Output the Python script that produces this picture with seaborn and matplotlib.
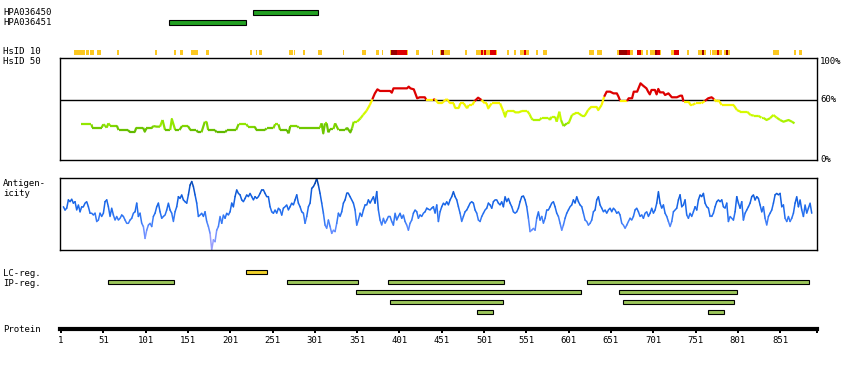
import numpy as np
import pandas as pd
import matplotlib
matplotlib.use("Agg")
import matplotlib.pyplot as plt
import seaborn as sns
from matplotlib.colors import LinearSegmentedColormap, to_hex

# ---------------- data ----------------
antibody_names = ["HPA036450", "HPA036451"]
antibody_start = [228, 129]
antibody_end = [305, 220]

# HsID 10 blocks: level 0 = yellow, 1 = red, 2 = dark red
hsid10_start = [16, 31, 35, 44, 67, 112, 135, 142, 155, 172, 224, 231, 235, 270, 276, 287, 305, 334, 357, 373, 380,
                390, 391, 398, 410, 421, 439, 449, 450, 454, 479,
                492, 497, 500, 501, 503, 508, 515, 528, 537, 544, 548, 551, 563, 571, 625, 634,
                658, 661, 670, 674, 682, 687, 693, 697, 703, 706, 709, 722, 725, 731, 741,
                754, 759, 761, 768, 770, 776, 779, 785, 787, 789, 843, 868, 873]
hsid10_end = [29, 34, 40, 48, 69, 115, 137, 145, 163, 176, 227, 233, 238, 275, 278, 289, 310, 336, 362, 377, 382,
              391, 398, 410, 411, 424, 441, 450, 454, 461, 481,
              497, 500, 501, 503, 508, 515, 516, 530, 539, 548, 551, 554, 565, 576, 631, 641,
              661, 670, 674, 677, 687, 689, 695, 703, 706, 709, 710, 725, 731, 732, 743,
              759, 761, 763, 769, 776, 779, 782, 787, 789, 792, 850, 870, 877]
hsid10_level = [0, 0, 0, 0, 0, 0, 0, 0, 0, 0, 0, 0, 0, 0, 0, 0, 0, 0, 0, 0, 0,
                0, 2, 1, 0, 0, 0, 0, 2, 0, 0,
                0, 1, 0, 1, 0, 1, 0, 0, 0, 0, 1, 0, 0, 0, 0, 0,
                0, 2, 1, 0, 1, 0, 0, 0, 2, 1, 0, 0, 1, 0, 0,
                0, 2, 0, 0, 0, 1, 0, 0, 2, 0, 0, 0, 0]

# HsID 50 identity profile (residue, % identity)
hsid50_res = [25, 37, 38, 49, 51, 53, 55, 57, 59, 67, 69, 80, 83, 88, 90, 98, 100, 102, 108, 110,
              114, 118, 121, 124, 130, 132, 136, 141, 144, 151, 154, 161, 163, 167, 171, 173, 175, 183, 185, 195,
              197, 208, 211, 220, 222, 230, 232, 242, 244, 252, 254, 258, 260, 268, 270, 272, 280, 282, 307, 309,
              311, 313, 315, 317, 319, 323, 325, 329, 337, 339, 343, 345, 347, 351, 355, 358, 362, 366, 369, 372,
              375, 378, 390, 392, 394, 410, 412, 414, 418, 422, 425, 431,
              433, 441, 443, 447, 451, 453, 457, 461, 465, 467, 471, 473, 477, 481, 483, 487, 490, 494, 498, 502,
              504, 506, 510, 520, 524, 526, 528, 536, 538, 542, 546, 552, 555, 557, 559, 567, 569, 577, 579, 581,
              585, 587, 590, 592, 595, 599, 601, 605, 609, 613, 617, 620, 624, 628, 634, 636, 640, 643, 646, 650,
              654, 658, 660, 662, 670, 672, 676, 678, 682, 686, 689, 693, 695, 697, 699, 703, 705, 707, 709, 713,
              715, 719, 723, 729, 733, 735, 737, 743, 745, 747, 751, 758, 762, 766, 770, 773, 776, 778, 782, 784,
              788, 796, 800, 804, 812, 816, 820, 825, 829, 831, 835, 839, 843, 847, 851, 855, 861, 865, 868]
hsid50_pct = [35.8, 35.8, 32.5, 32.5, 35.8, 34.5, 32.5, 36.8, 34.5, 34.5, 30.1, 30.1, 27.8, 27.8, 32.5, 32.5, 28.5, 31.8, 31.8, 34.1,
              33.5, 33.5, 40.1, 30.1, 30.1, 41.1, 30.1, 30.1, 34.1, 34.1, 30.1, 30.1, 27.8, 27.8, 38.4, 38.4, 30.1, 30.1, 27.8, 27.8,
              30.1, 30.1, 36.1, 36.1, 33.5, 33.5, 30.1, 30.1, 31.8, 31.8, 35.8, 35.8, 30.1, 30.1, 26.8, 34.1, 34.1, 32.5, 32.5, 36.8,
              26.8, 36.8, 36.8, 27.8, 31.1, 31.1, 36.8, 30.1, 30.1, 32.5, 27.8, 31.8, 38.4, 38.4, 41.8, 45.1, 49.1, 55.0, 60.7, 66.6,
              70.6, 69.0, 69.0, 67.3, 71.6, 71.6, 73.3, 71.6, 70.6, 61.7, 62.7, 62.7,
              60.0, 60.0, 61.0, 56.7, 56.7, 58.3, 61.0, 56.7, 56.7, 51.7, 51.7, 56.7, 56.7, 51.7, 55.0, 55.0, 59.0, 62.3, 60.0, 56.7,
              56.7, 51.7, 56.7, 56.7, 48.4, 43.4, 49.1, 49.1, 47.7, 47.7, 49.1, 49.1, 45.7, 41.8, 40.1, 40.1, 42.4, 42.4, 40.1, 43.4,
              43.4, 38.4, 48.4, 40.1, 34.1, 36.8, 36.8, 45.1, 46.7, 46.7, 44.1, 44.1, 50.0, 53.4, 53.4, 50.0, 55.0, 63.3, 68.3, 68.3,
              66.6, 66.6, 63.3, 59.0, 59.0, 61.7, 61.7, 68.3, 68.3, 76.6, 74.3, 71.6, 68.3, 65.6, 70.0, 70.0, 65.6, 71.0, 67.6, 67.6,
              65.0, 66.6, 62.7, 62.7, 64.3, 64.3, 58.3, 58.3, 55.0, 55.0, 56.7, 56.7, 59.0, 61.7, 62.7, 60.7, 58.3, 60.0, 55.0, 55.0,
              55.0, 55.0, 50.0, 48.4, 48.4, 45.1, 44.4, 44.4, 42.4, 42.4, 40.1, 41.8, 45.1, 42.4, 40.1, 38.4, 40.1, 38.4, 36.8]

# Antigenicity profile (score, -100..100), sampled along residues antigen_first..antigen_last
antigen_first = 3.8
antigen_last = 888.4
antigen_score = [
    21, 12, 17, 40, 35, 42, 31, 35, 12, 26, 7, 21, 21, 31, 35, 21, 3, 3, -2, 3,
    -20, -16, 3, -6, 3, 35, 40, 21, -6, 17, -2, -16, -6, -16, -11, -2, -6, -16, -25, -25,
    -16, -11, 3, 7, 31, -6, 3, -25, -34, -67, -44, -30, -25, -34, -6, 3, 21, 31, 7, -11,
    -6, -2, 12, 31, 12, 3, -20, 7, 21, 49, 44, 54, 40, 35, 31, 54, 81, 91, 77, 54,
    31, -6, -2, 3, -6, 7, -20, -34, -53, -99, -71, -76, -44, -34, -6, -25, -2, -11, 3, -2,
    7, 31, 21, 49, 68, 58, 54, 40, 35, 44, 54, 49, 58, 49, 40, 49, 44, 49, 58, 68,
    68, 58, 49, 49, 21, 7, 3, 12, 3, 17, 12, -2, 17, 21, 26, 12, 21, 31, 26, 40,
    54, 31, 21, 7, 3, -25, -6, 21, 31, 72, 77, 86, 100, 81, 58, 31, 3, -30, -39, -16,
    -34, -53, -44, -48, -25, 3, -6, 7, 31, 40, 58, 58, 49, 40, 31, 12, -30, -16, 3, -6,
    12, 26, 26, 40, 31, 40, 49, 31, 63, 12, -16, -30, -11, -25, -16, -6, -6, -20, -30, 3,
    -16, -6, 3, -11, -2, -20, -30, -44, -25, -16, 3, 12, 7, -11, -2, -6, 3, 7,
    17, 14, 12, 17, 21, 3, 26, -20, 7, 21, 31, 26, 35, 26, 40, 49, 63, 49, 40, 21,
    3, -20, -6, 7, 12, 21, 31, 35, 31, 12, 3, -16, -20, -6, 3, 12, 17, 31, 26, 17,
    35, 40, 40, 31, 26, 35, 21, 49, 35, 44, 31, 21, 7, 3, 7, 17, 35, 49, 51, 40,
    21, -11, -48, -44, -39, -44, -11, 7, -16, -6, -25, -11, 12, 12, 21, 31, 35, 21, 3, -6,
    -25, -44, -30, -11, 3, 12, 21, 26, 40, 31, 49, 35, 26, 21, 3, -16, -20, -30, -25, -16,
    7, 12, 40, 49, 26, 17, 7, 12, 3, 12, 17, 7, 17, 12, 3, 7, -2, -25, -30, -39,
    -30, -20, -11, -16, -6, 12, 17, 7, -6, -2, -11, 3, 7, -6, 3, 17, 3, 12, 31, 63,
    31, 17, 26, 3, -6, -20, -34, -20, 7, 12, 17, 40, 54, 21, 26, 40, -2, -11, 3, -6,
    7, 21, 12, 40, 54, 49, 58, 31, 21, 17, -6, -6, 3, 21, 35, 40, 35, 40, 21, 17,
    31, -20, -6, -11, -16, 7, 49, 31, 17, 35, -16, 3, 12, 21, 31, 49, 54, 40, 49, 44,
    26, 7, 21, -11, -30, -6, 3, 12, 31, 54, 58, 54, 58, 21, 26, -11, -20, -6, -20, -11,
    3, 31, 49, 21, 40, 12, -6, 26, 3, 17, 31, 3]

lc_start = [220]
lc_end = [245]

ip_row = [1, 1, 1, 1, 2, 2, 3, 3, 4, 4]
ip_start = [56, 268, 387, 623, 350, 661, 390, 665, 493, 766]
ip_end = [134, 352, 525, 885, 616, 800, 523, 797, 512, 785]

tick_values = [1, 51, 101, 151, 201, 251, 301, 351, 401, 451, 501, 551, 601, 651, 701, 751, 801, 851]
protein_end = 894.6

# ---------------- style ----------------
sns.set_theme(style="white")
plt.rcParams["font.family"] = ["DejaVu Sans Mono"]
FS = 6.5

W, H = 850, 370
XMIN, XMAX = -0.2, protein_end
fig = plt.figure(figsize=(W / 100, H / 100), dpi=100)
fig.patch.set_facecolor("white")


def px_axes(x0, y0, x1, y1):
    ax = fig.add_axes([x0 / W, 1 - y1 / H, (x1 - x0) / W, (y1 - y0) / H])
    ax.set_facecolor("none")
    ax.set_xlim(XMIN, XMAX)
    return ax


def label(x, y, s, ha="left"):
    fig.text(x / W, 1 - y / H, s, ha=ha, va="center", fontsize=FS, color="black")


def runs_frame(x, y, seg_colors):
    rows, pal = [], {}
    start, run = 0, 0
    n = len(seg_colors)
    for i in range(1, n + 1):
        if i == n or seg_colors[i] != seg_colors[start]:
            key = f"r{run}"
            for j in range(start, i + 1):
                rows.append((x[j], y[j], key))
            pal[key] = seg_colors[start]
            run += 1
            start = i
    return pd.DataFrame(rows, columns=["x", "y", "run"]), pal


# ---- antibody tracks ----
ax_ab = px_axes(60, 7.3, 817, 27.3)
ax_ab.set_ylim(1.5, -0.5)
for i, (s, e) in enumerate(zip(antibody_start, antibody_end)):
    ax_ab.barh(i, e - s, left=s, height=0.45, color="#22a022", edgecolor="black", linewidth=0.8)
ax_ab.axis("off")
for i, name in enumerate(antibody_names):
    label(3, 12.5 + 10 * i, name)

# ---- HsID 10 ----
ax_h10 = px_axes(60, 50, 817, 54.5)
ax_h10.set_ylim(0, 1)
lvl_colors = {0: "#fcc820", 1: "#dd0000", 2: "#990000"}
for lvl in [0, 1, 2]:
    for s, e, l in zip(hsid10_start, hsid10_end, hsid10_level):
        if l == lvl:
            ax_h10.axvspan(s, e, color=lvl_colors[l], lw=0)
ax_h10.axis("off")
label(3, 52, "HsID 10")
label(3, 62, "HsID 50")

# ---- HsID 50 panel ----
ax_h50 = px_axes(60, 58.3, 817, 160.3)
ax_h50.set_ylim(0, 101.5)
green_cmap = LinearSegmentedColormap.from_list(
    "idg", [(0.0, "#5cb400"), (0.15, "#70c800"), (0.30, "#9cee00"), (0.5, "#c4fa00"),
            (0.72, "#e2fa00"), (0.9, "#faf500"), (1.0, "#fff200")])
seg_cols = []
for a, b in zip(hsid50_pct[:-1], hsid50_pct[1:]):
    m = (a + b) / 2
    if m > 60.3:
        seg_cols.append("#dd0000")
    else:
        q = round(m)
        seg_cols.append(to_hex(green_cmap(np.clip((q - 27) / 33, 0, 1))))
df50, pal50 = runs_frame(hsid50_res, hsid50_pct, seg_cols)
sns.lineplot(data=df50, x="x", y="y", hue="run", palette=pal50, estimator=None, sort=False,
             legend=False, lw=1.6, solid_capstyle="butt", ax=ax_h50)
ax_h50.axhline(60, color="black", lw=1.0, zorder=0)
ax_h50.set_xticks([])
ax_h50.set_yticks([])
ax_h50.set_xlabel("")
ax_h50.set_ylabel("")
for sp in ax_h50.spines.values():
    sp.set_color("black")
    sp.set_linewidth(1.0)
    sp.set_visible(True)
label(820, 62, "100%")
label(820, 100, "60%")
label(820, 160, "0%")

# ---- Antigenicity ----
ax_ag = px_axes(60, 178.3, 817, 250.3)
ax_ag.set_ylim(-100, 100)
ag_res = np.linspace(antigen_first, antigen_last, len(antigen_score))
blue_cmap = LinearSegmentedColormap.from_list(
    "ag", [(0.0, "#b0a2f4"), (0.15, "#8a9aff"), (0.3, "#5a8aff"), (0.42, "#3a7cf6"),
           (0.52, "#246ff0"), (0.68, "#1664e6"), (0.84, "#0c56d0"), (1.0, "#0040a4")])
ag_cols = []
for a, b in zip(antigen_score[:-1], antigen_score[1:]):
    q = round((a + b) / 20) * 10
    ag_cols.append(to_hex(blue_cmap((q + 100) / 200)))
dfag, palag = runs_frame(list(ag_res), antigen_score, ag_cols)
sns.lineplot(data=dfag, x="x", y="y", hue="run", palette=palag, estimator=None, sort=False,
             legend=False, lw=1.1, ax=ax_ag)
ax_ag.set_xticks([])
ax_ag.set_yticks([])
ax_ag.set_xlabel("")
ax_ag.set_ylabel("")
for sp in ax_ag.spines.values():
    sp.set_color("black")
    sp.set_linewidth(1.0)
    sp.set_visible(True)
label(3, 183, "Antigen-")
label(3, 194, "icity")

# ---- Protein axis ----
ax_p = px_axes(60, 300, 817, 329.3)
ax_p.set_ylim(0, 1)
for side in ["top", "left", "right"]:
    ax_p.spines[side].set_visible(False)
ax_p.spines["bottom"].set_visible(True)
ax_p.spines["bottom"].set_color("black")
ax_p.spines["bottom"].set_linewidth(3)
ax_p.set_yticks([])
ax_p.set_xticks(tick_values + [protein_end])
ax_p.set_xticklabels([str(t) for t in tick_values] + [""])
ax_p.tick_params(axis="x", bottom=True, direction="out", length=2.6, width=1.4, color="black",
                 labelsize=FS, pad=2.5, labelcolor="black")
label(3, 329.3, "Protein")

# ---- LC / IP regions ----
ax_r = px_axes(60, 267.3, 817, 317.3)
ax_r.set_ylim(4.5, -0.5)
for s, e in zip(lc_start, lc_end):
    ax_r.barh(0, e - s, left=s, height=0.4, color="#f2d22a", edgecolor="black", linewidth=0.8)
for r, s, e in zip(ip_row, ip_start, ip_end):
    ax_r.barh(r, e - s, left=s, height=0.4, color="#9cc65a", edgecolor="black", linewidth=0.8)
ax_r.axis("off")
label(3, 273, "LC-reg.")
label(3, 283, "IP-reg.")

fig.savefig("out.png", dpi=100, facecolor="white")
